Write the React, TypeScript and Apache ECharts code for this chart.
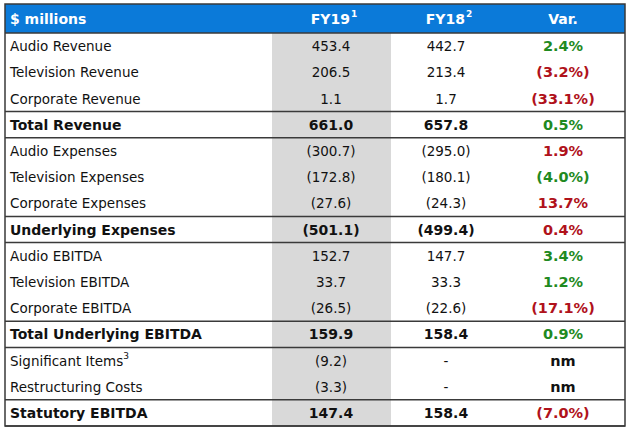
import React, { useEffect, useRef } from "react";
import * as echarts from "echarts";

const headers = ["$ millions", "FY19", "FY18", "Var."];
const headerNotes = ["", "1", "2", ""];
const rowLabels = [
  "Audio Revenue",
  "Television Revenue",
  "Corporate Revenue",
  "Total Revenue",
  "Audio Expenses",
  "Television Expenses",
  "Corporate Expenses",
  "Underlying Expenses",
  "Audio EBITDA",
  "Television EBITDA",
  "Corporate EBITDA",
  "Total Underlying EBITDA",
  "Significant Items",
  "Restructuring Costs",
  "Statutory EBITDA",
];
const rowNotes = ["", "", "", "", "", "", "", "", "", "", "", "", "3", "", ""];
const fy19 = ["453.4", "206.5", "1.1", "661.0", "(300.7)", "(172.8)", "(27.6)", "(501.1)", "152.7", "33.7", "(26.5)", "159.9", "(9.2)", "(3.3)", "147.4"];
const fy18 = ["442.7", "213.4", "1.7", "657.8", "(295.0)", "(180.1)", "(24.3)", "(499.4)", "147.7", "33.3", "(22.6)", "158.4", "-", "-", "158.4"];
const variance = ["2.4%", "(3.2%)", "(33.1%)", "0.5%", "1.9%", "(4.0%)", "13.7%", "0.4%", "3.4%", "1.2%", "(17.1%)", "0.9%", "nm", "nm", "(7.0%)"];
const varTone = ["g", "r", "r", "g", "r", "g", "r", "r", "g", "g", "r", "g", "n", "n", "r"];
const boldRows = [3, 7, 11, 14];

export default function App() {
  const ref = useRef<HTMLDivElement>(null);
  useEffect(() => {
    if (!ref.current) return;
    const chart = echarts.init(ref.current, undefined, { renderer: "svg" });
    const L = 5, R = 625, T = 4, HB = 33, B = 426;
    const rowH = (B - HB) / rowLabels.length;
    const colX = [10, 331, 446, 563];
    const font = "DejaVu Sans";
    const lineColor = "#3a3a3a";
    const toneColor: Record<string, string> = { g: "#1f8a1f", r: "#b0121b", n: "#111111" };
    const els: any[] = [];
    const withNote = (t: string, n: string) => (n ? `{m|${t}}{s|${n}}` : `{m|${t}}`);
    els.push({ type: "rect", shape: { x: L, y: T, width: R - L, height: HB - T }, style: { fill: "#0b7ad9" } });
    els.push({ type: "rect", shape: { x: 272, y: HB, width: 119, height: B - HB }, style: { fill: "#d9d9d9" } });
    headers.forEach((h, i) => {
      els.push({
        type: "text",
        x: colX[i] + (headerNotes[i] ? 3 : 0),
        y: (T + HB) / 2,
        style: {
          text: withNote(h, headerNotes[i]),
          textAlign: i === 0 ? "left" : "center",
          textVerticalAlign: "middle",
          rich: {
            m: { fill: "#ffffff", fontFamily: font, fontWeight: "bold", fontSize: 14, lineHeight: 18, verticalAlign: "middle" },
            s: { fill: "#ffffff", fontFamily: font, fontWeight: "bold", fontSize: 9, lineHeight: 13, verticalAlign: "top", padding: [0, 0, 0, 1] },
          },
        },
      });
    });
    boldRows.forEach((r) => {
      [r, r + 1].forEach((k) => {
        const y = HB + k * rowH;
        els.push({ type: "line", shape: { x1: L, y1: y, x2: R, y2: y }, style: { stroke: lineColor, lineWidth: 1.5 } });
      });
    });
    els.push({ type: "line", shape: { x1: L, y1: HB, x2: R, y2: HB }, style: { stroke: lineColor, lineWidth: 1.5 } });
    rowLabels.forEach((lab, i) => {
      const bold = boldRows.includes(i);
      const cy = HB + (i + 0.5) * rowH;
      const f = bold ? `bold 14px '${font}'` : `13.5px '${font}'`;
      els.push({
        type: "text",
        x: colX[0],
        y: cy,
        style: {
          text: withNote(lab, rowNotes[i]),
          textAlign: "left",
          textVerticalAlign: "middle",
          rich: {
            m: { fill: "#111", fontFamily: font, fontWeight: bold ? "bold" : "normal", fontSize: bold ? 14 : 13.5, lineHeight: 18, verticalAlign: "middle" },
            s: { fill: "#111", fontFamily: font, fontSize: 9, lineHeight: 13, verticalAlign: "top" },
          },
        },
      });
      els.push({ type: "text", x: colX[1], y: cy, style: { text: fy19[i], fill: "#111", font: f, textAlign: "center", textVerticalAlign: "middle" } });
      els.push({ type: "text", x: colX[2], y: cy, style: { text: fy18[i], fill: "#111", font: f, textAlign: "center", textVerticalAlign: "middle" } });
      els.push({
        type: "text",
        x: colX[3],
        y: cy,
        style: { text: variance[i], fill: toneColor[varTone[i]], font: `bold 14.5px '${font}'`, textAlign: "center", textVerticalAlign: "middle" },
      });
    });
    els.push({ type: "rect", shape: { x: L, y: T, width: R - L, height: B - T }, style: { fill: "none", stroke: lineColor, lineWidth: 1.5 } });
    chart.setOption({ animation: false, graphic: { elements: els } });
    return () => chart.dispose();
  }, []);
  return <div ref={ref} style={{ position: "fixed", left: 0, top: 0, width: 630, height: 442, background: "#fff" }} />;
}
